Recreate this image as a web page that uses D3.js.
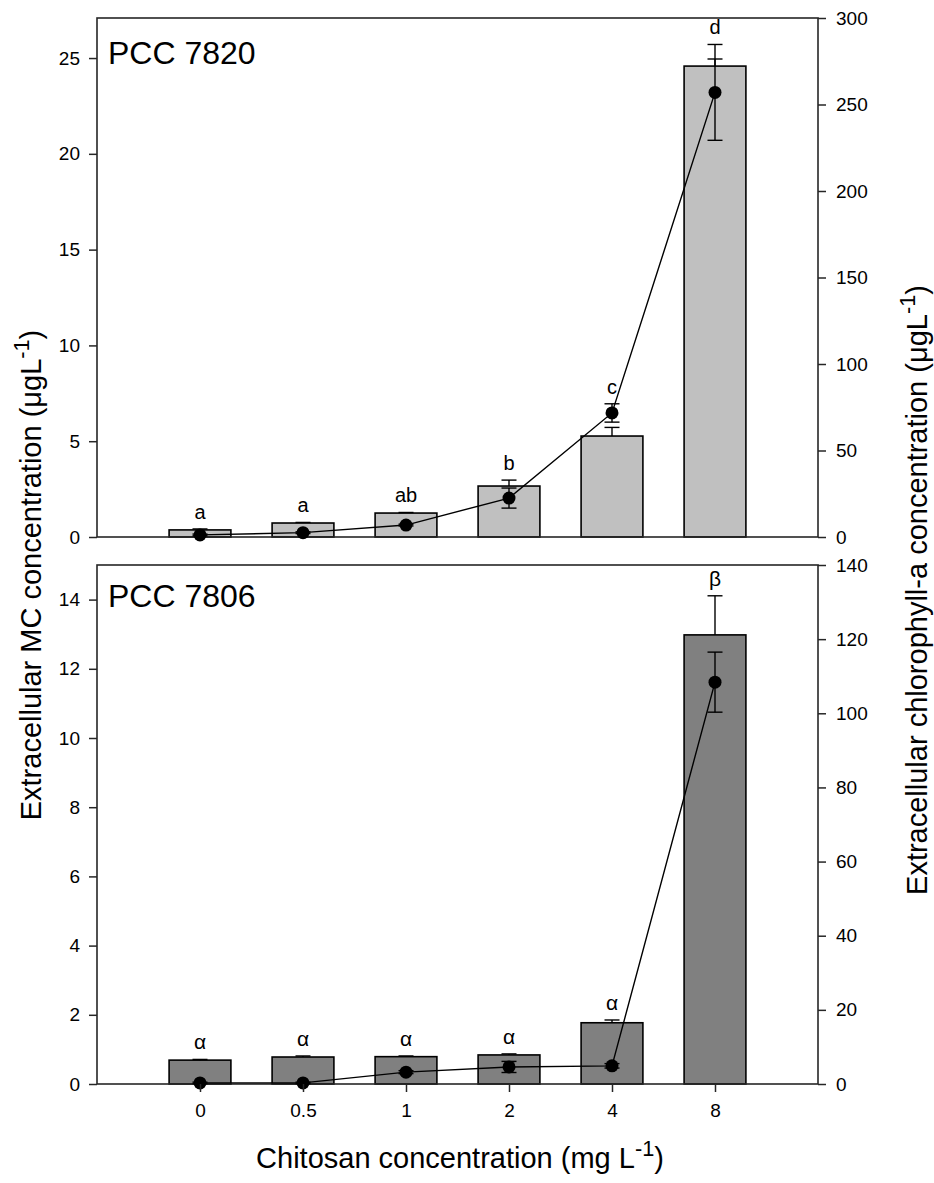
<!DOCTYPE html>
<html><head><meta charset="utf-8">
<script src="https://cdn.jsdelivr.net/npm/d3@7"></script>
<style>
body{margin:0;background:#fff}
text{font-family:"Liberation Sans",Arial,Helvetica,sans-serif;fill:#000}
</style>
</head><body>
<svg id="chart" width="934" height="1183"></svg>
<script>
// ---- data ----
const categories = ["0", "0.5", "1", "2", "4", "8"];

const mc7820     = [0.37, 0.73, 1.25, 2.66, 5.27, 24.58];
const mc7820Err  = [0.05, 0.03, 0.03, 0.31, 0.45, 0.37];
const chl7820    = [1.2, 2.5, 6.9, 22.5, 71.7, 257];
const chl7820Err = [0.5, 0.5, 0.5, 5.8, 5.3, 27.7];
const sig7820    = ["a", "a", "ab", "b", "c", "d"];

const mc7806     = [0.69, 0.78, 0.79, 0.84, 1.77, 12.98];
const mc7806Err  = [0.02, 0.03, 0.02, 0.03, 0.08, 1.13];
const chl7806    = [0.3, 0.3, 3.2, 4.6, 4.9, 108.4];
const chl7806Err = [0.2, 0.2, 0.4, 1.5, 0.6, 8.1];
const sig7806    = ["α", "α", "α", "α", "α", "β"];

const mcTicks7820  = [0, 5, 10, 15, 20, 25];
const chlTicks7820 = [0, 50, 100, 150, 200, 250, 300];
const mcTicks7806  = [0, 2, 4, 6, 8, 10, 12, 14];
const chlTicks7806 = [0, 20, 40, 60, 80, 100, 120, 140];

// ---- layout ----
const svg = d3.select("#chart");
const L = 97, R = 818;
const x = d3.scalePoint().domain(categories).range([L, R]).padding(1);
const bw = x.step() * 0.6;
const cap = 7.5;
const axisColor = "#262626";

const panels = [
  {name: "PCC 7820", top: 18, bottom: 537, mc: mc7820, mcErr: mc7820Err, chl: chl7820, chlErr: chl7820Err,
   sig: sig7820, mcMax: 27.09, chlMax: 300, mcTicks: mcTicks7820, chlTicks: chlTicks7820,
   fill: "#c0c0c0", xTicks: false, labelDy: 46, sigSize: 20},
  {name: "PCC 7806", top: 565, bottom: 1084, mc: mc7806, mcErr: mc7806Err, chl: chl7806, chlErr: chl7806Err,
   sig: sig7806, mcMax: 15, chlMax: 140, mcTicks: mcTicks7806, chlTicks: chlTicks7806,
   fill: "#808080", xTicks: true, labelDy: 42, sigSize: 21}
];

panels.forEach(p => {
  const yL = d3.scaleLinear().domain([0, p.mcMax]).range([p.bottom, p.top]);
  const yR = d3.scaleLinear().domain([0, p.chlMax]).range([p.bottom, p.top]);
  const g = svg.append("g");
  const rows = categories.map((c, i) => ({c, mc: p.mc[i], mcErr: p.mcErr[i], chl: p.chl[i], chlErr: p.chlErr[i], sig: p.sig[i]}));

  // bars
  g.selectAll("rect.bar").data(rows).join("rect")
    .attr("x", d => x(d.c) - bw / 2).attr("width", bw)
    .attr("y", d => yL(d.mc)).attr("height", d => yL(0) - yL(d.mc))
    .attr("fill", p.fill).attr("stroke", "#000").attr("stroke-width", 1.6);

  // bar error bars (upward)
  const be = g.selectAll("g.be").data(rows).join("g").attr("stroke", "#000").attr("stroke-width", 1.4);
  be.append("line").attr("x1", d => x(d.c)).attr("x2", d => x(d.c))
    .attr("y1", d => yL(d.mc)).attr("y2", d => yL(d.mc + d.mcErr));
  be.append("line").attr("x1", d => x(d.c) - cap).attr("x2", d => x(d.c) + cap)
    .attr("y1", d => yL(d.mc + d.mcErr)).attr("y2", d => yL(d.mc + d.mcErr));

  // frame
  g.append("rect").attr("x", L).attr("y", p.top).attr("width", R - L).attr("height", p.bottom - p.top)
    .attr("fill", "none").attr("stroke", axisColor).attr("stroke-width", 1.6);

  // line
  g.append("path").datum(rows)
    .attr("d", d3.line().x(d => x(d.c)).y(d => yR(d.chl)))
    .attr("fill", "none").attr("stroke", "#000").attr("stroke-width", 1.4);

  // dot error bars
  const de = g.selectAll("g.de").data(rows).join("g").attr("stroke", "#000").attr("stroke-width", 1.4);
  de.append("line").attr("x1", d => x(d.c)).attr("x2", d => x(d.c))
    .attr("y1", d => yR(d.chl - d.chlErr)).attr("y2", d => yR(d.chl + d.chlErr));
  [1, -1].forEach(s => {
    de.append("line").attr("x1", d => x(d.c) - cap).attr("x2", d => x(d.c) + cap)
      .attr("y1", d => yR(d.chl + s * d.chlErr)).attr("y2", d => yR(d.chl + s * d.chlErr));
  });

  // dots
  g.selectAll("circle").data(rows).join("circle")
    .attr("cx", d => x(d.c)).attr("cy", d => yR(d.chl)).attr("r", 6.5).attr("fill", "#000");

  // significance letters
  g.selectAll("text.sig").data(rows).join("text")
    .attr("x", d => x(d.c))
    .attr("y", d => Math.min(yL(d.mc + d.mcErr), yR(d.chl + d.chlErr)) - 10)
    .attr("text-anchor", "middle").attr("font-size", p.sigSize).text(d => d.sig);

  // axes
  const ax = (sel) => { sel.select(".domain").remove(); sel.selectAll("line").attr("stroke", axisColor).attr("stroke-width", 1.5); sel.selectAll("text").attr("font-size", 19).attr("font-family", null).attr("fill", "#000"); };
  g.append("g").attr("transform", `translate(${L},0)`)
    .call(d3.axisLeft(yL).tickValues(p.mcTicks).tickSize(8).tickPadding(9).tickFormat(d3.format("d"))).call(ax);
  g.append("g").attr("transform", `translate(${R},0)`)
    .call(d3.axisRight(yR).tickValues(p.chlTicks).tickSize(8).tickPadding(10).tickFormat(d3.format("d"))).call(ax);
  if (p.xTicks) {
    g.append("g").attr("transform", `translate(0,${p.bottom})`)
      .call(d3.axisBottom(x).tickSize(8).tickPadding(12)).call(ax);
  }

  // panel label
  g.append("text").attr("x", 108).attr("y", p.top + p.labelDy).attr("font-size", 32).text(p.name);
});

// axis titles
const tf = 29;
function titleWithSup(sel, before, sup, after) {
  sel.append("tspan").text(before);
  sel.append("tspan").attr("dy", -tf * 0.42).attr("font-size", tf * 0.75).text(sup);
  sel.append("tspan").attr("dy", tf * 0.42).text(after);
}
svg.append("text").attr("transform", "translate(41,575) rotate(-90)")
  .attr("text-anchor", "middle").attr("font-size", tf)
  .call(titleWithSup, "Extracellular MC concentration (μgL", "-1", ")");
svg.append("text").attr("transform", "translate(927,590) rotate(-90)")
  .attr("text-anchor", "middle").attr("font-size", tf)
  .call(titleWithSup, "Extracellular chlorophyll-a concentration (μgL", "-1", ")");
svg.append("text").attr("x", 460).attr("y", 1168)
  .attr("text-anchor", "middle").attr("font-size", tf)
  .call(titleWithSup, "Chitosan concentration (mg L", "-1", ")");
</script>
</body></html>
